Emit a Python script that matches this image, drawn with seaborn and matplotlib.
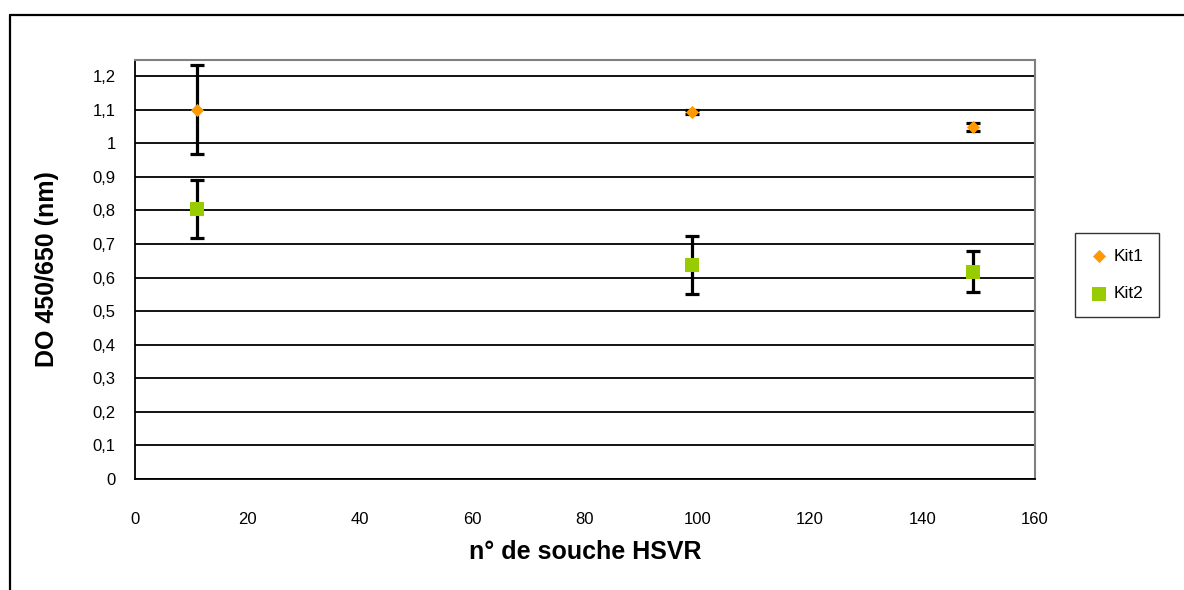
import numpy as np
import pandas as pd
import seaborn as sns
import matplotlib.pyplot as plt
from matplotlib.lines import Line2D

# values
souche = [11, 99, 149]
kit1 = [1.10, 1.093, 1.048]
kit1_err = [0.132, 0.005, 0.012]
kit2 = [0.805, 0.637, 0.617]
kit2_err = [0.086, 0.087, 0.061]
yticks = [round(0.1 * i, 1) for i in range(13)]
ytick_labels = ["0" if v == 0 else ("1" if v == 1 else str(v).replace(".", ",")) for v in yticks]
xticks = [0, 20, 40, 60, 80, 100, 120, 140, 160]

df = pd.DataFrame({
    "souche": souche * 2,
    "DO": kit1 + kit2,
    "err": kit1_err + kit2_err,
    "Kit": ["Kit1"] * 3 + ["Kit2"] * 3,
})

sns.set_style("white")
plt.rcParams['font.family'] = ['Liberation Sans', 'DejaVu Sans']
plt.rcParams['text.color'] = 'black'
plt.rcParams['axes.labelcolor'] = 'black'
plt.rcParams['xtick.color'] = 'black'
plt.rcParams['ytick.color'] = 'black'

fig = plt.figure(figsize=(11.84, 5.90), dpi=100)
ax = fig.add_axes([135 / 1184, 1 - 479 / 590, 900 / 1184, 419 / 590])

for v in yticks:
    ax.axhline(v, color='black', lw=1.3, zorder=1)

ax.errorbar(df["souche"], df["DO"], yerr=df["err"], fmt='none', ecolor='black',
            elinewidth=2.3, capsize=4.8, capthick=2.3, zorder=2)

colors = {"Kit1": "#FF9900", "Kit2": "#99CC00"}
markers = {"Kit1": "D", "Kit2": "s"}
sizes = {"Kit1": 45, "Kit2": 110}
for k in ["Kit1", "Kit2"]:
    sub = df[df["Kit"] == k]
    sns.scatterplot(ax=ax, data=sub, x="souche", y="DO", color=colors[k], marker=markers[k],
                    s=sizes[k], linewidth=0, zorder=3, label=k)

ax.set_xlim(0, 160)
ax.set_ylim(0, 1.248)
ax.set_xticks(xticks)
ax.set_yticks(yticks)
ax.set_yticklabels(ytick_labels)
ax.tick_params(axis='both', labelsize=12, length=6, width=1.2, direction='out')
ax.tick_params(axis='y', pad=8)
ax.tick_params(axis='x', pad=18)

for side in ['top', 'right']:
    ax.spines[side].set_color('#808080')
    ax.spines[side].set_linewidth(1.5)
for side in ['left', 'bottom']:
    ax.spines[side].set_color('black')
    ax.spines[side].set_linewidth(1.3)

ax.set_xlabel("n° de souche HSVR", fontsize=18, fontweight='bold', labelpad=9)
ax.set_ylabel("DO 450/650 (nm)", fontsize=18, fontweight='bold', labelpad=24)

leg = ax.legend(loc='center left', bbox_to_anchor=(1075 / 1184, 1 - 275 / 590),
                bbox_transform=fig.transFigure, frameon=True, fontsize=12.5,
                handletextpad=0.3, handlelength=1.0, borderpad=0.9, labelspacing=1.3,
                borderaxespad=0, fancybox=False, edgecolor='black')
leg.get_frame().set_linewidth(1.0)

# outer chart frame (top and left edges visible)
fig.add_artist(Line2D([10 / 1184, 1], [1 - 15 / 590, 1 - 15 / 590], color='black', lw=1.6,
                      transform=fig.transFigure))
fig.add_artist(Line2D([10 / 1184, 10 / 1184], [0, 1 - 15 / 590], color='black', lw=1.6,
                      transform=fig.transFigure))

fig.savefig('out.png', dpi=100)
